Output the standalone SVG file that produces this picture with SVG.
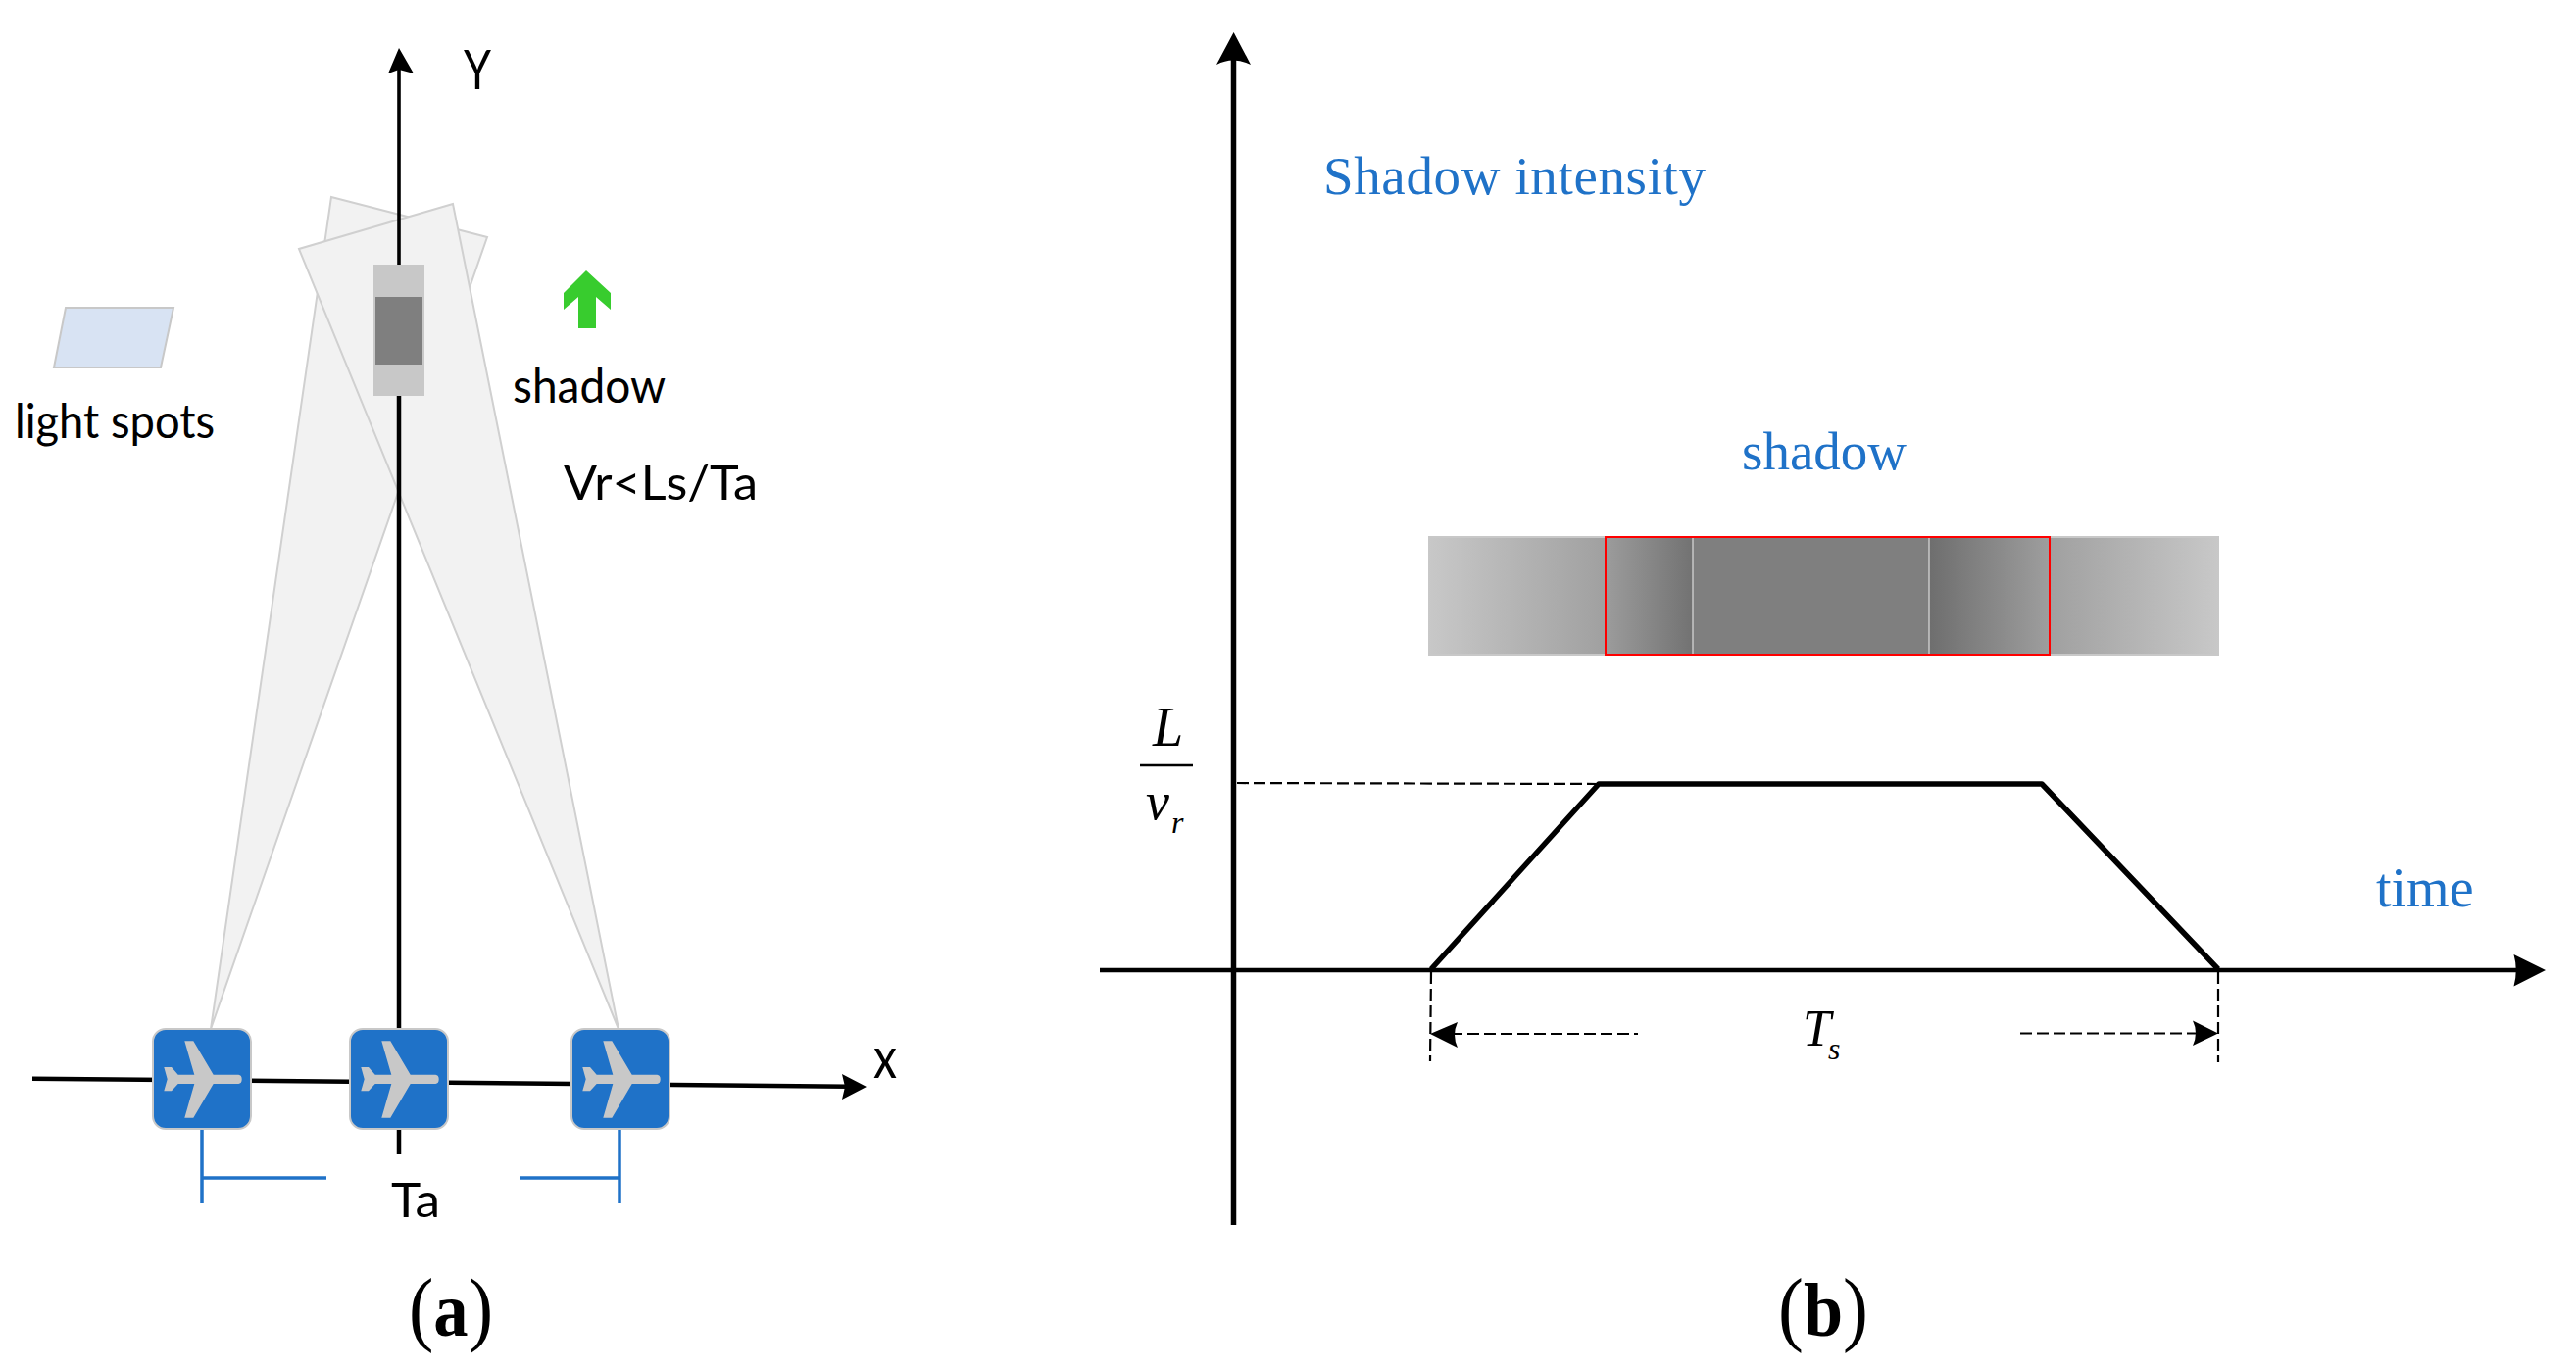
<svg xmlns="http://www.w3.org/2000/svg" width="2628" height="1397" viewBox="0 0 2628 1397">
<style>
.ax{stroke:#000;fill:none}
.dash{stroke:#000;fill:none;stroke-width:2.200;stroke-dasharray:12 5}
.beam{fill:#f2f2f2;stroke:#d0d0d0;stroke-width:2}
.blue{stroke:#1f72c8;stroke-width:3.500;fill:none}
.cal{font-family:Lato,"Liberation Sans",sans-serif;fill:#000;font-size:48px}
.tm{font-family:"Liberation Serif",serif;font-size:55px;fill:#1f72c8}
.it{font-family:"Liberation Serif",serif;font-style:italic;fill:#000}
.cap{font-family:"Liberation Serif",serif;font-size:84px;fill:#000}
.capb{font-weight:bold;font-size:78px}
</style>
<defs>
<linearGradient id="g1" x1="0" x2="1" y1="0" y2="0"><stop offset="0" stop-color="#c8c8c8"/><stop offset="1" stop-color="#a0a0a0"/></linearGradient>
<linearGradient id="g2" x1="0" x2="1" y1="0" y2="0"><stop offset="0" stop-color="#9c9c9c"/><stop offset="1" stop-color="#727272"/></linearGradient>
<linearGradient id="g3" x1="0" x2="1" y1="0" y2="0"><stop offset="0" stop-color="#6e6e6e"/><stop offset="1" stop-color="#9e9e9e"/></linearGradient>
<linearGradient id="g4" x1="0" x2="1" y1="0" y2="0"><stop offset="0" stop-color="#a0a0a0"/><stop offset="1" stop-color="#c8c8c8"/></linearGradient>
<g id="plane">
<rect x="0" y="0" width="100" height="102" rx="13" fill="#1f72c8" stroke="#c8c8c8" stroke-width="2"/>
<path fill="#c8c8c8" d="M32.300 12.300L41.300 12.300L61.700 46.700L87.300 46.700Q90.700 47 90.700 51.300Q90.700 55.700 87.300 56L61.700 56L41.300 90.700L32.300 90.700L42.300 56L25.700 56L19 63.300L11.300 63.300L14.700 51.300L11.300 39L19 39L25.700 46.700L42.300 46.700Z"/>
</g>
</defs>
<rect width="2628" height="1397" fill="#fff"/>

<g id="beams">
<polygon class="beam" points="338,201 497,242 215,1050"/>
<polygon class="beam" points="462,208 305,254 631,1050"/>
</g>

<g id="connectors">
<line class="ax" x1="407" y1="70" x2="407" y2="300" stroke-width="3.600"/>
<line class="ax" x1="407" y1="300" x2="407" y2="1178" stroke-width="4.500"/>
<polygon points="407,49 422,75 407,71 396,75"/>
<polyline class="ax" stroke-width="4.500" points="33,1100.700 865,1108.800"/>
<polygon points="884,1109 859,1122 862,1109 859,1096"/>
<path class="blue" d="M206 1152V1228M206 1202H333M632 1152V1228M632 1202H531"/>

<line class="ax" x1="1258.500" y1="60" x2="1258.500" y2="1250" stroke-width="5.500"/>
<path d="M1258.600 33L1276 66Q1258 57 1241 66Z"/>
<line class="ax" x1="1122" y1="990" x2="2575" y2="990" stroke-width="4.500"/>
<path d="M2597 990L2564.500 974Q2569 990 2564.500 1006.600Z"/>
<polyline class="ax" stroke-width="5.500" stroke-linejoin="round" points="1460,989 1631,800 2083,800 2263,989"/>
<line class="dash" x1="1262" y1="799" x2="1631" y2="800"/>
<line class="dash" x1="1460" y1="992" x2="1459" y2="1083"/>
<line class="dash" x1="2263" y1="992" x2="2263" y2="1084"/>
<line class="dash" x1="1480" y1="1055" x2="1671" y2="1055"/>
<path d="M1459 1055L1487 1043Q1481 1056 1487 1069Z"/>
<line class="dash" x1="2061" y1="1054.500" x2="2245" y2="1054.500"/>
<path d="M2263 1054.500L2237 1041.500Q2243 1054 2237 1067Z"/>
<line x1="1163" y1="781" x2="1217" y2="781" stroke="#000" stroke-width="2.500"/>
</g>

<g id="shadow-a">
<rect x="381" y="270" width="52" height="134" fill="#c8c8c8"/>
<rect x="383" y="303" width="48" height="69" fill="#7f7f7f"/>
</g>
<g id="plane-1"><use href="#plane" x="156" y="1050"/></g>
<g id="plane-2"><use href="#plane" x="357" y="1050"/></g>
<g id="plane-3"><use href="#plane" x="583" y="1050"/></g>
<g id="light-spot"><polygon points="67,314 177,314 164,375 55,375" fill="#d8e3f3" stroke="#c8c8c8" stroke-width="2"/></g>
<g id="green-arrow"><polygon fill="#38cc2e" points="598,276 623,299 623,316 608,303 608,335 590,335 590,303 575,316 575,299"/></g>

<g id="shadow-b">
<rect x="1457" y="547" width="807" height="122" fill="#c8c8c8"/>
<rect x="1457" y="549" width="181" height="118" fill="url(#g1)"/>
<rect x="1638" y="549" width="89" height="118" fill="url(#g2)"/>
<rect x="1727" y="549" width="241" height="118" fill="#7f7f7f"/>
<rect x="1968" y="549" width="123" height="118" fill="url(#g3)"/>
<rect x="2091" y="549" width="173" height="118" fill="url(#g4)"/>
<line x1="1727" y1="549" x2="1727" y2="667" stroke="#c8c8c8" stroke-width="1.500"/>
<line x1="1968" y1="549" x2="1968" y2="667" stroke="#c8c8c8" stroke-width="1.500"/>
<rect x="1638" y="548" width="453" height="120" fill="none" stroke="#f00" stroke-width="2"/>
</g>

<g id="labels">
<text class="cal" x="473" y="91" textLength="28" lengthAdjust="spacingAndGlyphs" style="font-size:56px">Y</text>
<text class="cal" x="15" y="447" textLength="204" lengthAdjust="spacingAndGlyphs">light spots</text>
<text class="cal" x="523" y="411" textLength="156" lengthAdjust="spacingAndGlyphs">shadow</text>
<text class="cal" x="575" y="510" textLength="198" lengthAdjust="spacingAndGlyphs">Vr&lt;Ls/Ta</text>
<text class="cal" x="399" y="1242" textLength="50" lengthAdjust="spacingAndGlyphs">Ta</text>
<text class="cal" x="891" y="1100" style="font-size:58px" textLength="24" lengthAdjust="spacingAndGlyphs">x</text>
<text class="cap" x="417" y="1363" textLength="86" lengthAdjust="spacingAndGlyphs">(<tspan class="capb">a</tspan>)</text>
<text class="cap" x="1814" y="1363" textLength="92" lengthAdjust="spacingAndGlyphs">(<tspan class="capb">b</tspan>)</text>
<text class="tm" x="1350" y="198" textLength="390" lengthAdjust="spacing">Shadow intensity</text>
<text class="tm" x="1777" y="479">shadow</text>
<text class="tm" x="2424" y="925" style="font-size:56px">time</text>
<text class="it" x="1176" y="761" font-size="56">L</text>
<text class="it" x="1169" y="836" font-size="54">v</text>
<text class="it" x="1195" y="850" font-size="32">r</text>
<text class="it" x="1839" y="1067" font-size="52">T</text>
<text class="it" x="1865" y="1081" font-size="32">s</text>
</g>
</svg>
